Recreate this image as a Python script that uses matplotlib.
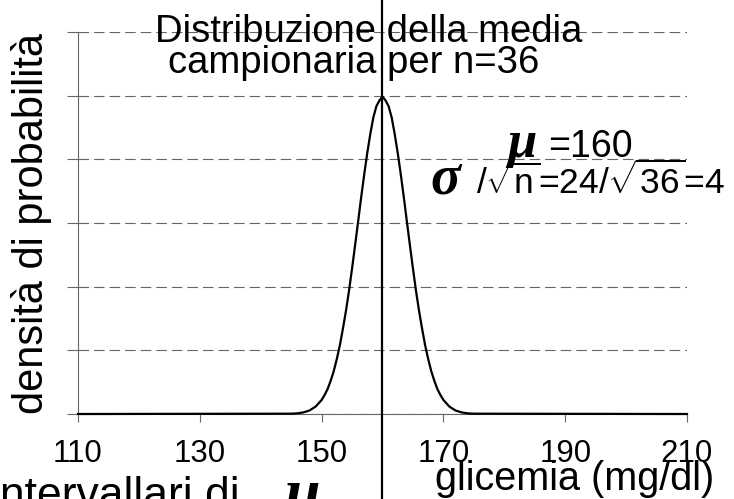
import matplotlib
matplotlib.use("Agg")
import matplotlib.pyplot as plt

plt.rcParams['font.family'] = ['Liberation Sans', 'DejaVu Sans']
plt.rcParams['mathtext.fontset'] = 'custom'
plt.rcParams['mathtext.rm'] = 'Liberation Sans'
plt.rcParams['mathtext.it'] = 'Liberation Sans:italic'
plt.rcParams['mathtext.bf'] = 'Liberation Sans:bold'

# densita' della media campionaria (media 160, es 4)
glicemia = [110, 145, 146, 147, 148, 149,
            150, 150.5, 151, 151.5, 152, 152.5, 153, 153.5, 154, 154.5,
            155, 155.5, 156, 156.5, 157, 157.5, 158, 158.5, 159, 159.5,
            160, 160.5, 161, 161.5, 162, 162.5, 163, 163.5, 164, 164.5,
            165, 165.5, 166, 166.5, 167, 167.5, 168, 168.5, 169, 169.5,
            170, 171, 172, 173, 174, 175, 210]
densita = [0.0, 0.0001, 0.0002, 0.0005, 0.0011, 0.0023,
           0.0044, 0.0060, 0.0079, 0.0105, 0.0135, 0.0173, 0.0216, 0.0268, 0.0324, 0.0387,
           0.0457, 0.0530, 0.0605, 0.0681, 0.0753, 0.0820, 0.0880, 0.0932, 0.0967, 0.0985,
           0.0997, 0.0985, 0.0967, 0.0932, 0.0880, 0.0820, 0.0753, 0.0681, 0.0605, 0.0530,
           0.0457, 0.0387, 0.0324, 0.0268, 0.0216, 0.0173, 0.0135, 0.0105, 0.0079, 0.0060,
           0.0044, 0.0023, 0.0011, 0.0005, 0.0002, 0.0001, 0.0]
media = 160
xticks = [110, 130, 150, 170, 190, 210]
yticks = [0, 0.02, 0.04, 0.06, 0.08, 0.10, 0.12]

W, H = 734, 499
fig = plt.figure(figsize=(W / 100, H / 100), dpi=100)
ax = fig.add_axes([78 / W, 1 - 414 / H, (687 - 78) / W, (414 - 32) / H])

def px(x, y):
    return x / W, 1 - y / H

grigio = '#666666'
ax.set_xlim(110, 210)
ax.set_ylim(0, 0.12)
ax.set_xticks(xticks)
ax.set_xticklabels([str(v) for v in xticks], fontsize=22.5)
ax.set_yticks(yticks)
ax.set_yticklabels([])
ax.tick_params(axis='x', length=6, width=0.8, color=grigio, pad=12)
ax.tick_params(axis='y', length=8, width=0.8, color=grigio)
for s in ['top', 'right']:
    ax.spines[s].set_visible(False)
ax.spines['left'].set_color(grigio)
ax.spines['bottom'].set_color(grigio)
ax.spines['left'].set_linewidth(0.8)
ax.yaxis.grid(True, color=grigio, linewidth=0.8, linestyle=(0, (9.5, 4.5)))
ax.set_axisbelow(False)

ax.plot(glicemia, densita, color='black', lw=1.6, clip_on=False, zorder=3)
ax.axvline(media, ymin=-0.3, ymax=1.2, color='black', lw=1.6, clip_on=False, zorder=4)

ax.set_ylabel('densità di probabilità', fontsize=30, labelpad=7)

fig.text(*px(369, 42), 'Distribuzione della media', fontsize=27.5,
         ha='center', va='baseline', zorder=1)
fig.text(*px(354, 73), 'campionaria per n=36', fontsize=27.5,
         ha='center', va='baseline')

fig.text(*px(507, 157), 'μ', fontsize=38, family='Liberation Serif',
         weight='bold', style='italic', va='baseline')
fig.text(*px(548, 157), '=160', fontsize=27, va='baseline')
fig.text(*px(430, 194), 'σ', fontsize=40, family='Liberation Serif',
         weight='bold', style='italic', va='baseline')
fig.text(*px(476, 194), r'/$\sqrt{\mathrm{n}}$=24/$\sqrt{36}$=4',
         fontsize=25.5, va='baseline')

fig.text(*px(435, 490), 'glicemia (mg/dl)', fontsize=28.5, va='baseline')
fig.text(*px(240, 508), 'intervallari di', fontsize=32, ha='right', va='baseline')
fig.text(*px(285, 512), 'μ', fontsize=46, family='Liberation Serif',
         weight='bold', style='italic', va='baseline')

fig.savefig('out.png', dpi=100)
